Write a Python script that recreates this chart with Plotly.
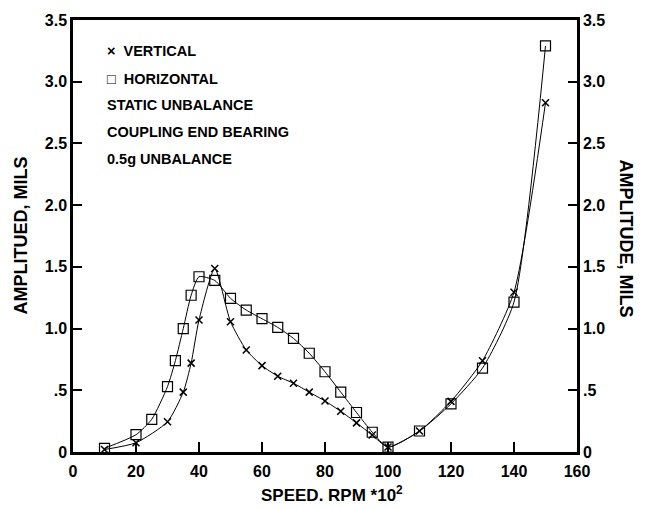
import plotly.graph_objects as go

# Data
vert_x = [10, 20, 30, 35, 37.5, 40, 45, 50, 55, 60, 65, 70, 75, 80, 85, 90, 95, 100, 110, 120, 130, 140, 150]
vert_y = [0.02, 0.075, 0.245, 0.485, 0.72, 1.07, 1.486, 1.056, 0.826, 0.70, 0.614, 0.557, 0.485, 0.413, 0.33, 0.236, 0.137, 0.04, 0.17, 0.41, 0.74, 1.295, 2.83]

horiz_x = [10, 20, 25, 30, 32.5, 35, 37.5, 40, 45, 50, 55, 60, 65, 70, 75, 80, 85, 90, 95, 100, 110, 120, 130, 140, 150]
horiz_y = [0.03, 0.14, 0.265, 0.53, 0.74, 1.0, 1.27, 1.42, 1.39, 1.245, 1.15, 1.08, 1.01, 0.92, 0.80, 0.65, 0.485, 0.32, 0.16, 0.04, 0.17, 0.39, 0.68, 1.215, 3.29]

x_ticks = [0, 20, 40, 60, 80, 100, 120, 140, 160]
y_ticks = [0, 0.5, 1.0, 1.5, 2.0, 2.5, 3.0, 3.5]
y_tick_labels = ["0", ".5", "1.0", "1.5", "2.0", "2.5", "3.0", "3.5"]

legend_lines = ["×  VERTICAL", "□  HORIZONTAL", "STATIC UNBALANCE", "COUPLING END BEARING", "0.5g UNBALANCE"]

FONT = "Liberation Sans"

fig = go.Figure()
fig.add_trace(go.Scatter(
    x=vert_x, y=vert_y, mode="lines+markers",
    line=dict(color="black", width=1, shape="spline", smoothing=0.6),
    marker=dict(symbol="x-thin", size=7, line=dict(color="black", width=1.5)),
    showlegend=False,
))
fig.add_trace(go.Scatter(
    x=horiz_x, y=horiz_y, mode="lines+markers",
    line=dict(color="black", width=1, shape="spline", smoothing=0.6),
    marker=dict(symbol="square-open", size=10, color="black", line=dict(width=1.2)),
    showlegend=False,
))
# invisible trace to carry the right axis
fig.add_trace(go.Scatter(x=[0], y=[0], yaxis="y2", mode="markers",
                         marker=dict(opacity=0), showlegend=False, hoverinfo="skip"))

tickfont = dict(family=FONT, size=16, color="black", weight="bold")

fig.update_layout(
    width=645, height=508,
    margin=dict(l=73, r=68, t=17, b=56),
    paper_bgcolor="white", plot_bgcolor="white",
    font=dict(family=FONT, color="black"),
    xaxis=dict(
        range=[0, 160], tickvals=x_ticks, ticktext=[str(v) for v in x_ticks],
        ticks="inside", ticklen=10, tickwidth=1.5, tickcolor="black",
        showline=True, linewidth=2.5, linecolor="black", mirror=True,
        showgrid=False, zeroline=False, tickfont=tickfont, ticklabelstandoff=3,
    ),
    yaxis=dict(
        range=[0, 3.5], tickvals=y_ticks, ticktext=y_tick_labels,
        ticks="inside", ticklen=9, tickwidth=1.5, tickcolor="black",
        showline=True, linewidth=2.5, linecolor="black",
        showgrid=False, zeroline=False, tickfont=tickfont,
    ),
    yaxis2=dict(
        range=[0, 3.5], tickvals=y_ticks, ticktext=y_tick_labels,
        overlaying="y", side="right", anchor="x",
        ticks="inside", ticklen=9, tickwidth=1.5, tickcolor="black",
        showline=True, linewidth=2.5, linecolor="black",
        showgrid=False, zeroline=False, tickfont=tickfont,
    ),
)

title_font = dict(family=FONT, size=18, color="black")
# x axis title
fig.add_annotation(text="<b>SPEED. RPM *10<sup>2</sup></b>", xref="paper", yref="paper",
                   x=(332 - 73) / 504, y=-(494 - 452) / 435, xanchor="center", yanchor="middle",
                   showarrow=False, font=dict(family=FONT, size=17, color="black"))
# left axis title (bottom-to-top)
fig.add_annotation(text="<b>AMPLITUED, MILS</b>", xref="paper", yref="paper",
                   x=(21 - 73) / 504, y=1 - (234 - 17) / 435, xanchor="center", yanchor="middle",
                   textangle=-90, showarrow=False, font=title_font)
# right axis title (top-to-bottom)
fig.add_annotation(text="<b>AMPLITUDE, MILS</b>", xref="paper", yref="paper",
                   x=(626 - 73) / 504, y=1 - (237 - 17) / 435, xanchor="center", yanchor="middle",
                   textangle=90, showarrow=False, font=title_font)

ys = [48, 76, 103, 130, 157]
for txt, py in zip(legend_lines, ys):
    fig.add_annotation(text="<b>" + txt + "</b>", xref="paper", yref="paper",
                       x=(105 - 73) / 504, y=1 - (py - 17) / 435,
                       xanchor="left", yanchor="middle", showarrow=False,
                       font=dict(family=FONT, size=14.5, color="black"))

fig.write_html("out.html")
